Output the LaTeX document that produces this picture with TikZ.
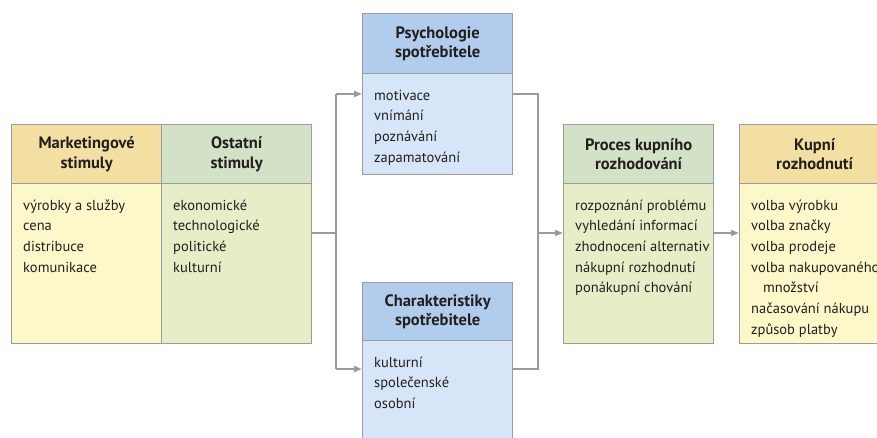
\documentclass[tikz,border=0pt]{standalone}
\usepackage{fontspec}
\setmainfont{PT Sans}
\usetikzlibrary{arrows.meta}
\definecolor{bordc}{HTML}{9C9C9C}
\definecolor{linec}{HTML}{9A9A9A}
\definecolor{txt}{HTML}{231F20}
\definecolor{yhdr}{HTML}{F4DFA2}
\definecolor{ybod}{HTML}{FCF8C9}
\definecolor{ghdr}{HTML}{D3E1C6}
\definecolor{gbod}{HTML}{E6EDC7}
\definecolor{bhdr}{HTML}{B1CCEC}
\definecolor{bbod}{HTML}{D6E5F8}
\begin{document}
\begin{tikzpicture}[x=1pt,y=-1pt,
  hdr/.style={draw=bordc, line width=1.3pt, minimum width=150pt, anchor=north west, inner sep=0pt,
    font=\bfseries\fontsize{16.5}{19.5}\selectfont, align=center, text=txt},
  bod/.style={draw=bordc, line width=1.3pt, minimum width=150pt, anchor=north west, inner sep=0pt},
  lst/.style={anchor=north west, align=left, inner sep=0pt, font=\fontsize{14.5}{20.7}\selectfont, text=txt},
  conn/.style={draw=linec, line width=2pt},
  arr/.style={conn, -{Triangle[length=8pt,width=6pt]}}
]
\useasboundingbox (0,0) rectangle (877,437);
% Marketingove stimuly
\node[bod, fill=ybod, minimum height=160pt] (Mb) at (11,183) {};
\node[hdr, fill=yhdr, minimum height=59pt] (Mh) at (11,124) {Marketingové\\stimuly};
\node[lst] (Mt) at (23,195.5) {\strut výrobky a služby\\cena\\distribuce\\komunikace};
% Ostatni stimuly
\node[bod, fill=gbod, minimum height=160pt] (Ob) at (161,183) {};
\node[hdr, fill=ghdr, minimum height=59pt] (Oh) at (161,124) {Ostatní\\stimuly};
\node[lst] (Ot) at (173,195.5) {\strut ekonomické\\technologické\\politické\\kulturní};
% Psychologie spotrebitele
\node[bod, fill=bbod, minimum height=101pt] (Pb) at (362,73) {};
\node[hdr, fill=bhdr, minimum height=60pt] (Ph) at (362,13) {Psychologie\\spotřebitele};
\node[lst] (Pt) at (374,85.5) {\strut motivace\\vnímání\\poznávání\\zapamatování};
% Charakteristiky spotrebitele
\node[bod, fill=bbod, minimum height=120pt] (Cb) at (362,340) {};
\node[hdr, fill=bhdr, minimum height=58pt] (Ch) at (362,282) {Charakteristiky\\spotřebitele};
\node[lst] (Ct) at (374,352.5) {\strut kulturní\\společenské\\osobní};
% Proces kupniho rozhodovani
\node[bod, fill=gbod, minimum height=160pt] (Rb) at (563,183) {};
\node[hdr, fill=ghdr, minimum height=59pt] (Rh) at (563,124) {Proces kupního\\rozhodování};
\node[lst] (Rt) at (575,195.5) {\strut rozpoznání problému\\vyhledání informací\\zhodnocení alternativ\\nákupní rozhodnutí\\ponákupní chování};
% Kupni rozhodnuti
\node[bod, fill=ybod, minimum height=160pt] (Kb) at (739,183) {};
\node[hdr, fill=yhdr, minimum height=59pt] (Kh) at (739,124) {Kupní\\rozhodnutí};
\node[lst] (Kt) at (751,195.5) {\strut volba výrobku\\volba značky\\volba prodeje\\volba nakupovaného\\\hspace*{12pt}množství\\načasování nákupu\\způsob platby};
% connector points
\coordinate (j1) at (336,233);
\coordinate (j2) at (538,233);
\coordinate (pin) at (362,94);
\coordinate (cin) at (362,369);
\coordinate (pout) at (513,94);
\coordinate (cout) at (513,369);
% connectors
\draw[conn] (j1 -| Ob.east) -- (j1);
\draw[conn] (j1 |- pin) -- (j1 |- cin);
\draw[arr] (j1 |- pin) -- (pin);
\draw[arr] (j1 |- cin) -- (cin);
\draw[conn] (pout) -- (j2 |- pout) -- (j2 |- cout) -- (cout);
\draw[arr] (j2) -- (j2 -| Rb.west);
\draw[arr] (j2 -| Rb.east) -- (j2 -| Kb.west);
\end{tikzpicture}
\end{document}
